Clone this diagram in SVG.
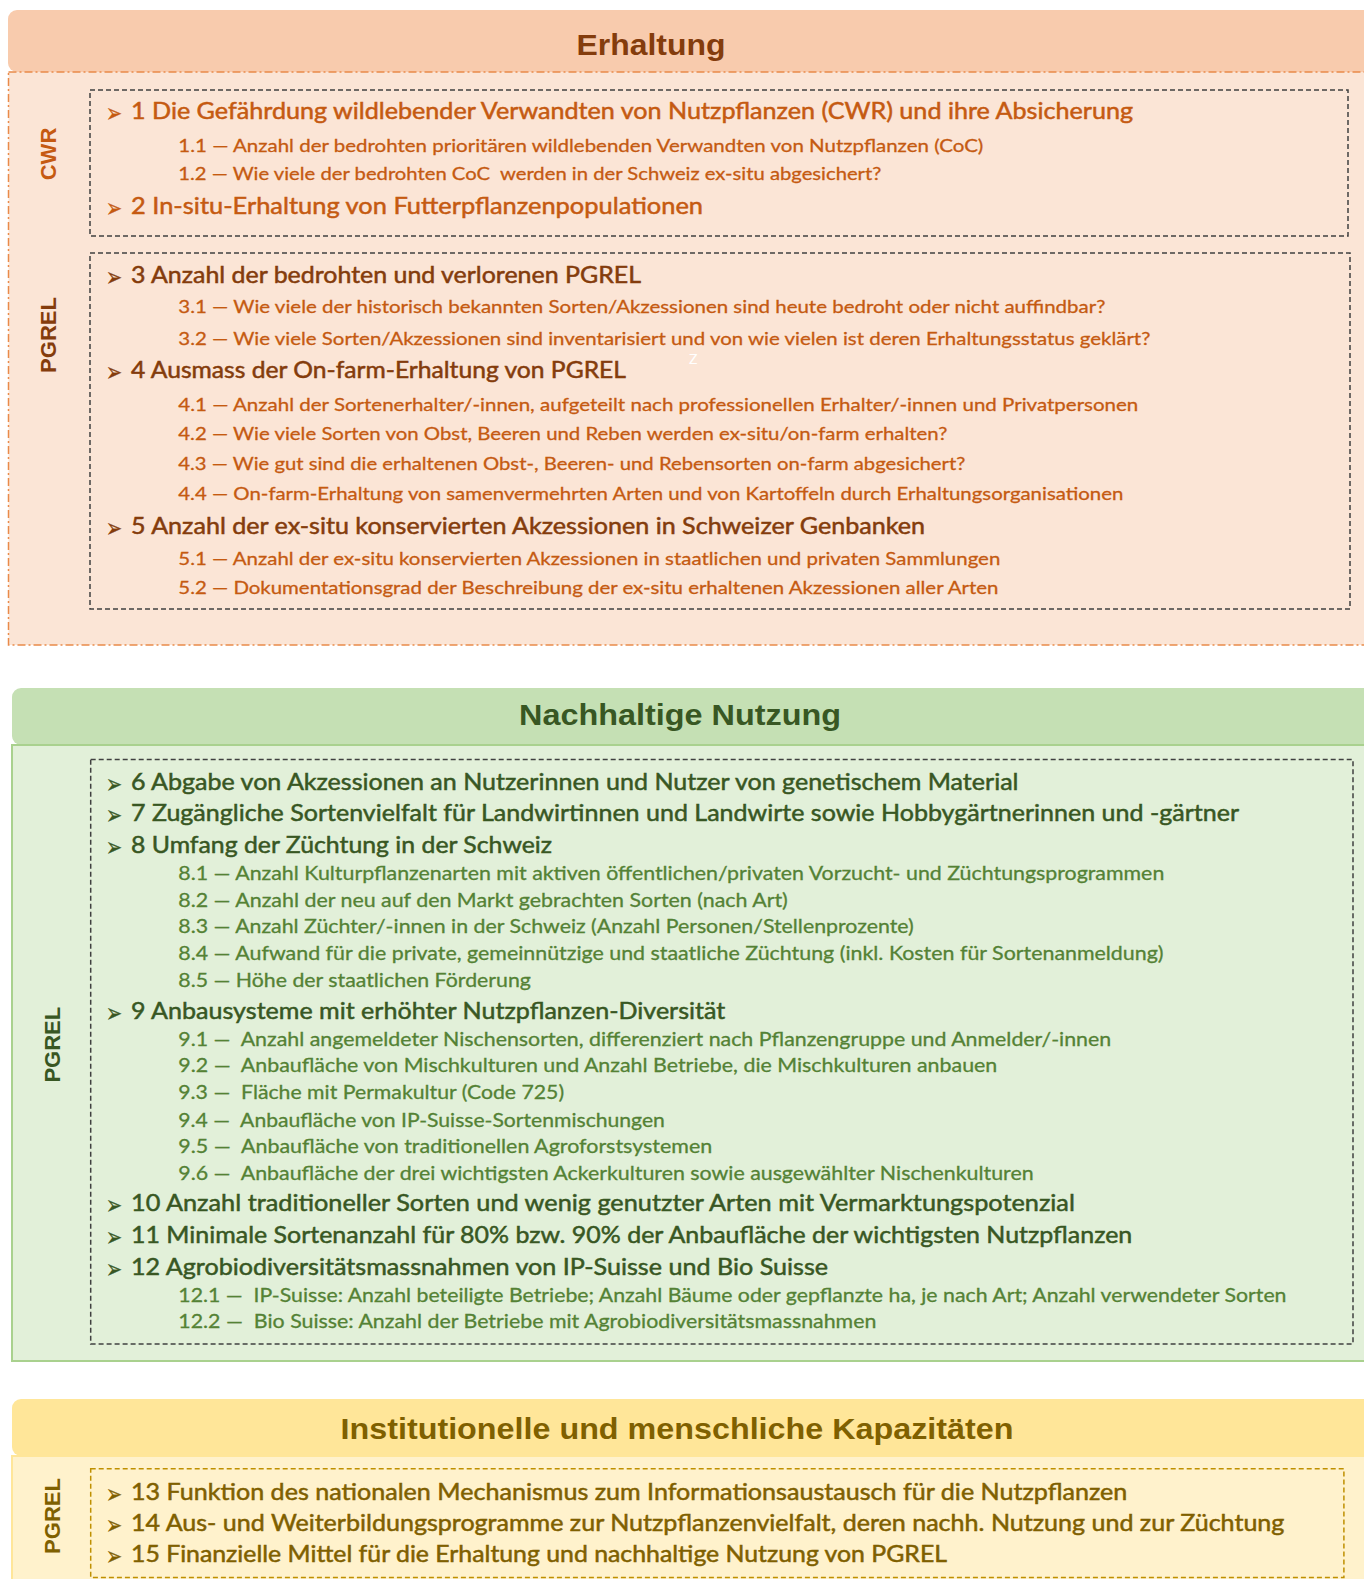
<svg xmlns="http://www.w3.org/2000/svg" width="1364" height="1579" viewBox="0 0 1364 1579">
<style>
.hdr{font-family:'Liberation Sans',Arial,sans-serif;font-weight:bold;font-size:29px;text-anchor:middle;stroke-width:0}
.lbl{font-family:'Liberation Sans',Arial,sans-serif;font-weight:bold;font-size:22px;text-anchor:middle;stroke-width:0}
.it{font-family:Lato,'Liberation Sans',sans-serif;font-size:23px;stroke-width:0.5}
.it2{font-family:Lato,'Liberation Sans',sans-serif;font-size:23.5px;stroke-width:0.5}
.sub{font-family:Lato,'Liberation Sans',sans-serif;font-size:18px;stroke-width:0.3}
.sub2{font-family:Lato,'Liberation Sans',sans-serif;font-size:19.5px;white-space:pre;stroke-width:0.3}
.arr{font-family:'DejaVu Sans',sans-serif;font-size:26px;stroke-width:0.4}
.box{fill:none;stroke:#404040;stroke-width:1.5;stroke-dasharray:5 3}
.o1{fill:#C55A11;stroke:#C55A11}.o2{fill:#843C0C;stroke:#843C0C}
.g1{fill:#385723;stroke:#385723}.g2{fill:#548235;stroke:#548235}
.y1{fill:#7F6000;stroke:#7F6000}
</style>

<g id="sec-erhaltung">
  <rect x="8" y="10" width="1370" height="62" rx="9" fill="#F8CBAD"/>
  <rect x="8.5" y="72" width="1370" height="573" fill="#FBE5D6" stroke="#E98A4A" stroke-width="1.5" stroke-dasharray="8 3 2 3"/>
  <text class="hdr o2" x="651" y="55" textLength="149" lengthAdjust="spacingAndGlyphs">Erhaltung</text>
  <text class="lbl o1" transform="translate(48,154) rotate(-90)" dy="0.36em">CWR</text>
  <text class="lbl o2" transform="translate(48,335) rotate(-90)" dy="0.36em">PGREL</text>
  <text x="689" y="364" fill="#FFFFFF" font-family="Lato,sans-serif" font-size="14">Z</text>
</g>

<g id="box-cwr">
  <rect class="box" x="90" y="90" width="1258" height="146"/>
  <g id="item-1">
    <text class="arr o1" x="106" y="122.4" textLength="16" lengthAdjust="spacingAndGlyphs">➢</text>
    <text class="it o1" x="131" y="119.4" textLength="1002" lengthAdjust="spacingAndGlyphs">1 Die Gefährdung wildlebender Verwandten von Nutzpflanzen (CWR) und ihre Absicherung</text>
    <text class="sub o1" x="178.3" y="152.1" textLength="805" lengthAdjust="spacingAndGlyphs">1.1 — Anzahl der bedrohten prioritären wildlebenden Verwandten von Nutzpflanzen (CoC)</text>
    <text class="sub o1" x="178.3" y="180.3" textLength="703" lengthAdjust="spacingAndGlyphs" style="white-space:pre">1.2 — Wie viele der bedrohten CoC  werden in der Schweiz ex-situ abgesichert?</text>
  </g>
  <g id="item-2">
    <text class="arr o1" x="106" y="217.1" textLength="16" lengthAdjust="spacingAndGlyphs">➢</text>
    <text class="it o1" x="131" y="214.1" textLength="572" lengthAdjust="spacingAndGlyphs">2 In-situ-Erhaltung von Futterpflanzenpopulationen</text>
  </g>
</g>

<g id="box-pgrel-1">
  <rect class="box" x="90" y="253" width="1260" height="356"/>
  <g id="item-3">
    <text class="arr o2" x="106" y="285.6" textLength="16" lengthAdjust="spacingAndGlyphs">➢</text>
    <text class="it o2" x="131" y="282.6" textLength="510" lengthAdjust="spacingAndGlyphs">3 Anzahl der bedrohten und verlorenen PGREL</text>
    <text class="sub o1" x="178.3" y="313.3" textLength="927" lengthAdjust="spacingAndGlyphs">3.1 — Wie viele der historisch bekannten Sorten/Akzessionen sind heute bedroht oder nicht auffindbar?</text>
    <text class="sub o1" x="178.3" y="344.5" textLength="972" lengthAdjust="spacingAndGlyphs">3.2 — Wie viele Sorten/Akzessionen sind inventarisiert und von wie vielen ist deren Erhaltungsstatus geklärt?</text>
  </g>
  <g id="item-4">
    <text class="arr o2" x="106" y="381.3" textLength="16" lengthAdjust="spacingAndGlyphs">➢</text>
    <text class="it o2" x="131" y="378.3" textLength="495" lengthAdjust="spacingAndGlyphs">4 Ausmass der On-farm-Erhaltung von PGREL</text>
    <text class="sub o1" x="178.3" y="411" textLength="960" lengthAdjust="spacingAndGlyphs">4.1 — Anzahl der Sortenerhalter/-innen, aufgeteilt nach professionellen Erhalter/-innen und Privatpersonen</text>
    <text class="sub o1" x="178.3" y="440.2" textLength="769" lengthAdjust="spacingAndGlyphs">4.2 — Wie viele Sorten von Obst, Beeren und Reben werden ex-situ/on-farm erhalten?</text>
    <text class="sub o1" x="178.3" y="470.4" textLength="787" lengthAdjust="spacingAndGlyphs">4.3 — Wie gut sind die erhaltenen Obst-, Beeren- und Rebensorten on-farm abgesichert?</text>
    <text class="sub o1" x="178.3" y="499.6" textLength="945" lengthAdjust="spacingAndGlyphs">4.4 — On-farm-Erhaltung von samenvermehrten Arten und von Kartoffeln durch Erhaltungsorganisationen</text>
  </g>
  <g id="item-5">
    <text class="arr o2" x="106" y="536.5" textLength="16" lengthAdjust="spacingAndGlyphs">➢</text>
    <text class="it o2" x="131" y="533.5" textLength="794" lengthAdjust="spacingAndGlyphs">5 Anzahl der ex-situ konservierten Akzessionen in Schweizer Genbanken</text>
    <text class="sub o1" x="178.3" y="565.1" textLength="822" lengthAdjust="spacingAndGlyphs">5.1 — Anzahl der ex-situ konservierten Akzessionen in staatlichen und privaten Sammlungen</text>
    <text class="sub o1" x="178.3" y="594.3" textLength="820" lengthAdjust="spacingAndGlyphs">5.2 — Dokumentationsgrad der Beschreibung der ex-situ erhaltenen Akzessionen aller Arten</text>
  </g>
</g>

<g id="sec-nutzung">
  <rect x="12" y="688" width="1362" height="57" rx="9" fill="#C5E0B4"/>
  <rect x="12" y="745" width="1362" height="616" fill="#E2F0D9" stroke="#A9D18E" stroke-width="2"/>
  <text class="hdr g1" x="680" y="724.5" textLength="322" lengthAdjust="spacingAndGlyphs">Nachhaltige Nutzung</text>
  <text class="lbl g1" transform="translate(52.4,1044.7) rotate(-90)" dy="0.36em">PGREL</text>
</g>

<g id="box-pgrel-2">
  <rect class="box" x="90.7" y="759.6" width="1262.3" height="584.3"/>
  <g id="item-6">
    <text class="arr g1" x="106" y="792.5" textLength="16" lengthAdjust="spacingAndGlyphs">➢</text>
    <text class="it2 g1" x="131" y="789.5" textLength="887.5" lengthAdjust="spacingAndGlyphs">6 Abgabe von Akzessionen an Nutzerinnen und Nutzer von genetischem Material</text>
  </g>
  <g id="item-7">
    <text class="arr g1" x="106" y="823.8" textLength="16" lengthAdjust="spacingAndGlyphs">➢</text>
    <text class="it2 g1" x="131" y="820.8" textLength="1108" lengthAdjust="spacingAndGlyphs">7 Zugängliche Sortenvielfalt für Landwirtinnen und Landwirte sowie Hobbygärtnerinnen und -gärtner</text>
  </g>
  <g id="item-8">
    <text class="arr g1" x="106" y="856" textLength="16" lengthAdjust="spacingAndGlyphs">➢</text>
    <text class="it2 g1" x="131" y="853" textLength="421" lengthAdjust="spacingAndGlyphs">8 Umfang der Züchtung in der Schweiz</text>
    <text class="sub2 g2" x="178.3" y="879.8" textLength="986" lengthAdjust="spacingAndGlyphs">8.1 — Anzahl Kulturpflanzenarten mit aktiven öffentlichen/privaten Vorzucht- und Züchtungsprogrammen</text>
    <text class="sub2 g2" x="178.3" y="907" textLength="609.5" lengthAdjust="spacingAndGlyphs">8.2 — Anzahl der neu auf den Markt gebrachten Sorten (nach Art)</text>
    <text class="sub2 g2" x="178.3" y="933.2" textLength="735.4" lengthAdjust="spacingAndGlyphs">8.3 — Anzahl Züchter/-innen in der Schweiz (Anzahl Personen/Stellenprozente)</text>
    <text class="sub2 g2" x="178.3" y="960.4" textLength="985.2" lengthAdjust="spacingAndGlyphs">8.4 — Aufwand für die private, gemeinnützige und staatliche Züchtung (inkl. Kosten für Sortenanmeldung)</text>
    <text class="sub2 g2" x="178.3" y="986.6" textLength="352.6" lengthAdjust="spacingAndGlyphs">8.5 — Höhe der staatlichen Förderung</text>
  </g>
  <g id="item-9">
    <text class="arr g1" x="106" y="1022.2" textLength="16" lengthAdjust="spacingAndGlyphs">➢</text>
    <text class="it2 g1" x="131" y="1019.2" textLength="594.3" lengthAdjust="spacingAndGlyphs">9 Anbausysteme mit erhöhter Nutzpflanzen-Diversität</text>
    <text class="sub2 g2" x="178.3" y="1046" textLength="932.9" lengthAdjust="spacingAndGlyphs">9.1 —  Anzahl angemeldeter Nischensorten, differenziert nach Pflanzengruppe und Anmelder/-innen</text>
    <text class="sub2 g2" x="178.3" y="1072.2" textLength="819" lengthAdjust="spacingAndGlyphs">9.2 —  Anbaufläche von Mischkulturen und Anzahl Betriebe, die Mischkulturen anbauen</text>
    <text class="sub2 g2" x="178.3" y="1099.4" textLength="385.8" lengthAdjust="spacingAndGlyphs">9.3 —  Fläche mit Permakultur (Code 725)</text>
    <text class="sub2 g2" x="178.3" y="1126.6" textLength="486.6" lengthAdjust="spacingAndGlyphs">9.4 —  Anbaufläche von IP-Suisse-Sortenmischungen</text>
    <text class="sub2 g2" x="178.3" y="1152.8" textLength="533.9" lengthAdjust="spacingAndGlyphs">9.5 —  Anbaufläche von traditionellen Agroforstsystemen</text>
    <text class="sub2 g2" x="178.3" y="1180" textLength="855.3" lengthAdjust="spacingAndGlyphs">9.6 —  Anbaufläche der drei wichtigsten Ackerkulturen sowie ausgewählter Nischenkulturen</text>
  </g>
  <g id="item-10">
    <text class="arr g1" x="106" y="1213.6" textLength="16" lengthAdjust="spacingAndGlyphs">➢</text>
    <text class="it2 g1" x="131" y="1210.6" textLength="943.9" lengthAdjust="spacingAndGlyphs">10 Anzahl traditioneller Sorten und wenig genutzter Arten mit Vermarktungspotenzial</text>
  </g>
  <g id="item-11">
    <text class="arr g1" x="106" y="1245.8" textLength="16" lengthAdjust="spacingAndGlyphs">➢</text>
    <text class="it2 g1" x="131" y="1242.8" textLength="1001.3" lengthAdjust="spacingAndGlyphs">11 Minimale Sortenanzahl für 80% bzw. 90% der Anbaufläche der wichtigsten Nutzpflanzen</text>
  </g>
  <g id="item-12">
    <text class="arr g1" x="106" y="1278.1" textLength="16" lengthAdjust="spacingAndGlyphs">➢</text>
    <text class="it2 g1" x="131" y="1275.1" textLength="697.1" lengthAdjust="spacingAndGlyphs">12 Agrobiodiversitätsmassnahmen von IP-Suisse und Bio Suisse</text>
    <text class="sub2 g2" x="178.3" y="1301.9" textLength="1108.2" lengthAdjust="spacingAndGlyphs">12.1 —  IP-Suisse: Anzahl beteiligte Betriebe; Anzahl Bäume oder gepflanzte ha, je nach Art; Anzahl verwendeter Sorten</text>
    <text class="sub2 g2" x="178.3" y="1328.1" textLength="698.1" lengthAdjust="spacingAndGlyphs">12.2 —  Bio Suisse: Anzahl der Betriebe mit Agrobiodiversitätsmassnahmen</text>
  </g>
</g>

<g id="sec-kapazitaeten">
  <rect x="12" y="1399" width="1362" height="57" rx="9" fill="#FFE699"/>
  <rect x="12" y="1456" width="1362" height="200" fill="#FFF2CC" stroke="#FFE699" stroke-width="2"/>
  <text class="hdr y1" x="677" y="1439" textLength="673" lengthAdjust="spacingAndGlyphs">Institutionelle und menschliche Kapazitäten</text>
  <text class="lbl y1" transform="translate(52.4,1516) rotate(-90)" dy="0.36em">PGREL</text>
</g>

<g id="box-pgrel-3">
  <rect x="90.7" y="1468.8" width="1253.2" height="108.8" fill="none" stroke="#BF9000" stroke-width="1.5" stroke-dasharray="5 3"/>
  <g id="item-13">
    <text class="arr y1" x="106" y="1502.8" textLength="16" lengthAdjust="spacingAndGlyphs">➢</text>
    <text class="it2 y1" x="131" y="1499.8" textLength="996.3" lengthAdjust="spacingAndGlyphs">13 Funktion des nationalen Mechanismus zum Informationsaustausch für die Nutzpflanzen</text>
  </g>
  <g id="item-14">
    <text class="arr y1" x="106" y="1534" textLength="16" lengthAdjust="spacingAndGlyphs">➢</text>
    <text class="it2 y1" x="131" y="1531" textLength="1153.4" lengthAdjust="spacingAndGlyphs">14 Aus- und Weiterbildungsprogramme zur Nutzpflanzenvielfalt, deren nachh. Nutzung und zur Züchtung</text>
  </g>
  <g id="item-15">
    <text class="arr y1" x="106" y="1565.2" textLength="16" lengthAdjust="spacingAndGlyphs">➢</text>
    <text class="it2 y1" x="131" y="1562.2" textLength="816" lengthAdjust="spacingAndGlyphs">15 Finanzielle Mittel für die Erhaltung und nachhaltige Nutzung von PGREL</text>
  </g>
</g>
</svg>
